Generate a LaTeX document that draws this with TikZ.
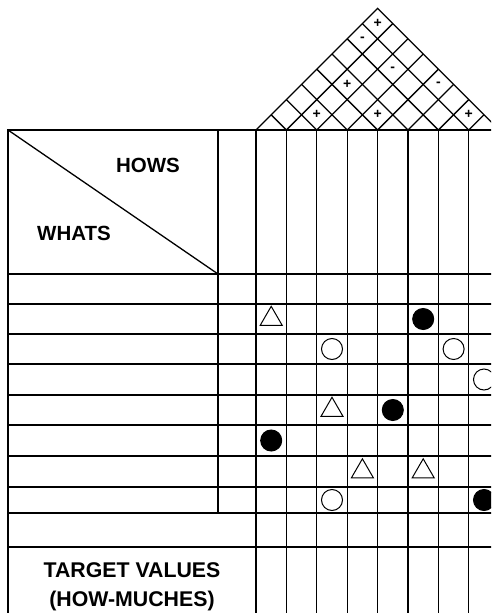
\documentclass[tikz,border=0pt]{standalone}
\usepackage{fontspec}
\setmainfont{Liberation Sans}
\usetikzlibrary{shapes.geometric}

\tikzset{
    heading/.style={font=\fontsize{20.5}{29}\selectfont\bfseries, inner sep=0pt},
    sign/.style={font=\fontsize{14}{14}\selectfont\bfseries, inner sep=0pt},
    strong/.style={circle, draw=black, fill=black, minimum size=21pt, inner sep=0pt, line width=1pt},
    medium/.style={circle, draw=black, fill=white, minimum size=21pt, inner sep=0pt, line width=1pt},
    weak/.style={regular polygon, regular polygon sides=3, draw=black, minimum size=25.4pt, inner sep=0pt, line width=1pt}
}

\begin{document}
\begin{tikzpicture}[x=1pt, y=-1pt, line width=1.3pt, line join=miter]

            \useasboundingbox (0,0) rectangle (491,613);
            \clip (0,0) rectangle (491,613);

            \def\colw{30.4}
            \def\xbase{256}

            % ==========================================
            % 1. Frame and grid
            % ==========================================
            \draw (8,613) -- (8,130) -- (520,130);
            \draw (8,130) -- (218,274);
            \draw (218,130) -- (218,513);
            \foreach \k in {0,...,8}
                \draw ({\xbase+\k*\colw},130) -- ({\xbase+\k*\colw},613);
            \foreach \y in {274,304,334,364,395,425,456,487,513,547}
                \draw (8,\y) -- (520,\y);

            % ==========================================
            % 2. Roof (correlation matrix)
            % ==========================================
            \draw (\xbase,130) -- ++({4*\colw},{-4*\colw}) -- ++({4*\colw},{4*\colw});
            \foreach \k in {1,...,7} {
                \draw ({\xbase+\k*\colw},130) -- ++({(8-\k)*\colw/2},{-(8-\k)*\colw/2});
                \draw ({\xbase+\k*\colw},130) -- ++({-\k*\colw/2},{-\k*\colw/2});
            }
            \foreach \i/\j/\s [count=\n] in {0/7/+, 0/6/-, 2/6/-, 1/4/+, 4/7/-, 1/2/+, 3/4/+, 6/7/+}
                \node[sign] (roof\n) at ({\xbase+(\i+\j+1)*\colw/2}, {130-(\j-\i)*\colw/2}) {\s};

            % ==========================================
            % 3. Relationship symbols
            % ==========================================
            \foreach \c/\y/\kind [count=\n] in {0/319/weak, 5/319/strong, 2/349/medium, 6/349/medium,
                    7/379.5/medium, 2/410/weak, 4/410/strong, 0/440.5/strong,
                    3/471.5/weak, 5/471.5/weak, 2/500/medium, 7/500/strong}
                \node[\kind] (rel\n) at ({\xbase+(\c+0.5)*\colw}, \y) {};

            % ==========================================
            % 4. Labels
            % ==========================================
            \node[heading] (hows) at (148,165) {HOWS};
            \node[heading] (whats) at (74,233) {WHATS};
            \node[heading, font=\fontsize{21.3}{29}\selectfont\bfseries, align=center] (target) at (132,587) {TARGET VALUES\\(HOW-MUCHES)};

\end{tikzpicture}
\end{document}
